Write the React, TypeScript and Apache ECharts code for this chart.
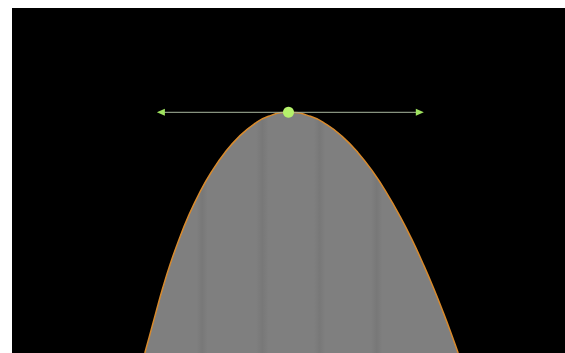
import React, { useEffect, useRef } from "react";
import * as echarts from "echarts";

// Curve: [x, y] pairs, left flank bottom -> apex -> right flank bottom
const curveX = [
  -1.559, -1.511, -1.44, -1.367, -1.286, -1.193, -1.088, -0.964, -0.84, -0.689, -0.534, -0.377, -0.218,
  0,
  0.238, 0.412, 0.582, 0.752, 0.921, 1.063, 1.212, 1.345, 1.465, 1.577, 1.681, 1.779, 1.841,
];
const curveY = [
  -3.0, -2.8, -2.5, -2.2, -1.9, -1.6, -1.3, -1.0, -0.75, -0.5, -0.3, -0.15, -0.05,
  0,
  -0.05, -0.15, -0.3, -0.5, -0.75, -1.0, -1.3, -1.6, -1.9, -2.2, -2.5, -2.8, -3.0,
];
// Tangent point and tangent line ends
const tangentPoint = [0, 0];
const tangentStart = [-1.385, 0];
const tangentEnd = [1.425, 0];

export default function App() {
  const ref = useRef<HTMLDivElement>(null);
  useEffect(() => {
    if (!ref.current) return;
    const chart = echarts.init(ref.current, undefined, { renderer: "svg" });
    const curveData = curveX.map((x, i) => [x, curveY[i]]);
    const grey = "#7f7f7f";
    const band = "#787878";
    chart.setOption({
      animation: false,
      backgroundColor: "#000000",
      grid: { left: 0, right: 0, top: 0, bottom: 0 },
      xAxis: { type: "value", min: -3, max: 3, show: false },
      yAxis: { type: "value", min: -3, max: 1.3, show: false },
      series: [
        {
          type: "line",
          data: curveData,
          smooth: true,
          symbol: "none",
          lineStyle: { color: "#d88a2c", width: 1.5 },
          areaStyle: {
            origin: "start",
            opacity: 1,
            color: new echarts.graphic.LinearGradient(0, 0, 1, 0, [
              { offset: 0, color: grey },
              { offset: 0.165, color: grey },
              { offset: 0.183, color: band },
              { offset: 0.2, color: grey },
              { offset: 0.355, color: grey },
              { offset: 0.375, color: band },
              { offset: 0.395, color: grey },
              { offset: 0.54, color: grey },
              { offset: 0.558, color: band },
              { offset: 0.576, color: grey },
              { offset: 0.722, color: grey },
              { offset: 0.74, color: band },
              { offset: 0.758, color: grey },
              { offset: 1, color: grey },
            ]),
          },
          z: 1,
        },
        {
          type: "line",
          data: [tangentStart, tangentEnd],
          symbol: "none",
          lineStyle: { color: "#a9b79f", width: 1 },
          z: 3,
        },
        {
          type: "scatter",
          data: [
            { value: tangentStart, symbolRotate: 90 },
            { value: tangentEnd, symbolRotate: -90 },
          ],
          symbol: "triangle",
          symbolSize: [7, 8],
          itemStyle: { color: "#9fe35f", opacity: 1 },
          z: 4,
        },
        {
          type: "scatter",
          data: [tangentPoint],
          symbolSize: 11,
          itemStyle: { color: "#b5f26b", opacity: 1 },
          z: 5,
        },
      ],
    });
    return () => chart.dispose();
  }, []);
  return (
    <div
      ref={ref}
      style={{ position: "absolute", left: 12, top: 8, width: 553, height: 345, background: "#000" }}
    />
  );
}
